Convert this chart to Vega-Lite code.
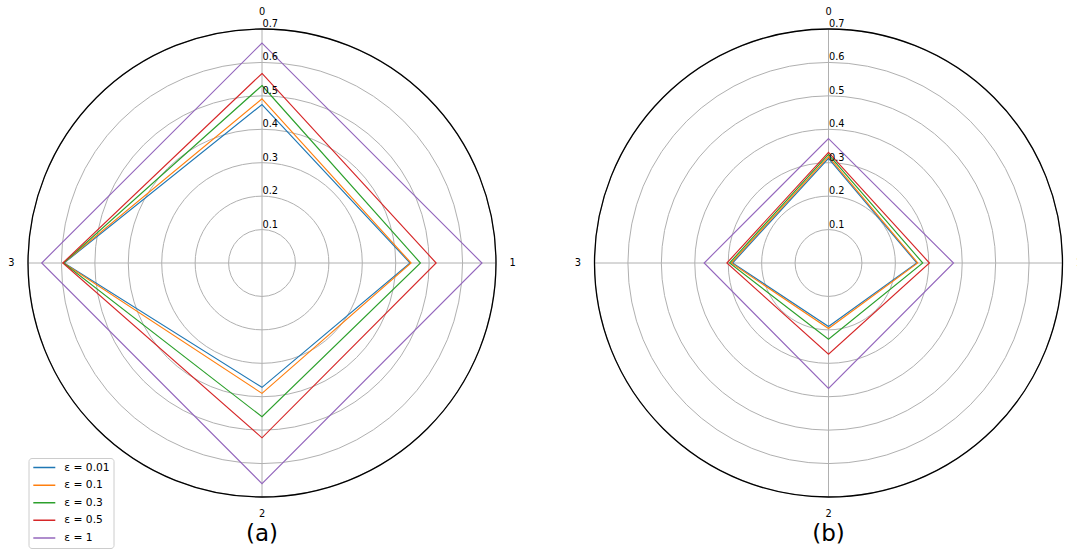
{
  "$schema": "https://vega.github.io/schema/vega-lite/v6.json",
  "padding": {"left": 8, "top": 7, "right": 0, "bottom": 0},
  "bounds": "flush",
  "spacing": 98.5,
  "config": {
    "font": "DejaVu Sans",
    "view": {"stroke": null},
    "legend": {
      "labelFont": "DejaVu Sans",
      "labelFontSize": 10.7,
      "labelColor": "#000000",
      "symbolType": "stroke",
      "symbolStrokeWidth": 1.5,
      "symbolSize": 484,
      "labelOffset": 8,
      "padding": 3.8,
      "rowPadding": 4.6,
      "clipHeight": 11.5,
      "strokeColor": "#cccccc",
      "fillColor": "rgba(255,255,255,0.8)",
      "cornerRadius": 3
    }
  },
  "datasets": {
    "grid": [{"r": 0.1}, {"r": 0.2}, {"r": 0.3}, {"r": 0.4}, {"r": 0.5}, {"r": 0.6}, {"r": 0.7}],
    "outer": [{"r": 0.7}],
    "angles": [{"angle": 0, "label": "0"}, {"angle": 1, "label": "1"}, {"angle": 2, "label": "2"}, {"angle": 3, "label": "3"}],
    "a": [
      {"eps": "ε = 0.01", "axis": 0, "v": 0.474}, {"eps": "ε = 0.01", "axis": 1, "v": 0.443}, {"eps": "ε = 0.01", "axis": 2, "v": 0.372}, {"eps": "ε = 0.01", "axis": 3, "v": 0.592},
      {"eps": "ε = 0.1", "axis": 0, "v": 0.491}, {"eps": "ε = 0.1", "axis": 1, "v": 0.446}, {"eps": "ε = 0.1", "axis": 2, "v": 0.390}, {"eps": "ε = 0.1", "axis": 3, "v": 0.594},
      {"eps": "ε = 0.3", "axis": 0, "v": 0.531}, {"eps": "ε = 0.3", "axis": 1, "v": 0.474}, {"eps": "ε = 0.3", "axis": 2, "v": 0.460}, {"eps": "ε = 0.3", "axis": 3, "v": 0.594},
      {"eps": "ε = 0.5", "axis": 0, "v": 0.567}, {"eps": "ε = 0.5", "axis": 1, "v": 0.521}, {"eps": "ε = 0.5", "axis": 2, "v": 0.523}, {"eps": "ε = 0.5", "axis": 3, "v": 0.596},
      {"eps": "ε = 1", "axis": 0, "v": 0.658}, {"eps": "ε = 1", "axis": 1, "v": 0.658}, {"eps": "ε = 1", "axis": 2, "v": 0.660}, {"eps": "ε = 1", "axis": 3, "v": 0.659}
    ],
    "b": [
      {"eps": "ε = 0.01", "axis": 0, "v": 0.313}, {"eps": "ε = 0.01", "axis": 1, "v": 0.264}, {"eps": "ε = 0.01", "axis": 2, "v": 0.190}, {"eps": "ε = 0.01", "axis": 3, "v": 0.287},
      {"eps": "ε = 0.1", "axis": 0, "v": 0.318}, {"eps": "ε = 0.1", "axis": 1, "v": 0.267}, {"eps": "ε = 0.1", "axis": 2, "v": 0.196}, {"eps": "ε = 0.1", "axis": 3, "v": 0.291},
      {"eps": "ε = 0.3", "axis": 0, "v": 0.325}, {"eps": "ε = 0.3", "axis": 1, "v": 0.282}, {"eps": "ε = 0.3", "axis": 2, "v": 0.228}, {"eps": "ε = 0.3", "axis": 3, "v": 0.296},
      {"eps": "ε = 0.5", "axis": 0, "v": 0.331}, {"eps": "ε = 0.5", "axis": 1, "v": 0.302}, {"eps": "ε = 0.5", "axis": 2, "v": 0.273}, {"eps": "ε = 0.5", "axis": 3, "v": 0.304},
      {"eps": "ε = 1", "axis": 0, "v": 0.372}, {"eps": "ε = 1", "axis": 1, "v": 0.374}, {"eps": "ε = 1", "axis": 2, "v": 0.375}, {"eps": "ε = 1", "axis": 3, "v": 0.372}
    ]
  },
  "hconcat": [
    {
      "width": 468,
      "height": 468,
      "title": {"text": "(a)", "orient": "bottom", "fontSize": 23, "fontWeight": "normal", "color": "#000000", "offset": 4},
      "layer": [
        {
          "data": {"name": "grid"},
          "mark": {"type": "point", "shape": "circle", "filled": false, "stroke": "#b0b0b0", "strokeWidth": 1, "opacity": 1},
          "encoding": {
            "x": {"datum": 0, "type": "quantitative", "scale": {"domain": [-0.7, 0.7], "nice": false, "zero": false}, "axis": null},
            "y": {"datum": 0, "type": "quantitative", "scale": {"domain": [-0.7, 0.7], "nice": false, "zero": false}, "axis": null},
            "size": {"field": "r", "type": "quantitative", "scale": {"type": "pow", "exponent": 2, "domain": [0, 0.7], "range": [0, 219024], "zero": true}, "legend": null}
          }
        },
        {
          "data": {"name": "outer"},
          "mark": {"type": "rule", "stroke": "#b0b0b0", "strokeWidth": 1},
          "encoding": {"x": {"datum": 0, "type": "quantitative"}}
        },
        {
          "data": {"name": "outer"},
          "mark": {"type": "rule", "stroke": "#b0b0b0", "strokeWidth": 1},
          "encoding": {"y": {"datum": 0, "type": "quantitative"}}
        },
        {
          "data": {"name": "outer"},
          "mark": {"type": "point", "shape": "circle", "filled": false, "stroke": "#000000", "strokeWidth": 1.3, "opacity": 1},
          "encoding": {
            "x": {"datum": 0, "type": "quantitative"},
            "y": {"datum": 0, "type": "quantitative"},
            "size": {"field": "r", "type": "quantitative", "legend": null}
          }
        },
        {
          "data": {"name": "a"},
          "transform": [
            {"calculate": "datum.v * sin(datum.axis * PI / 2)", "as": "px"},
            {"calculate": "datum.v * cos(datum.axis * PI / 2)", "as": "py"}
          ],
          "mark": {"type": "line", "strokeWidth": 1.15, "interpolate": "linear-closed", "strokeJoin": "miter"},
          "encoding": {
            "x": {"field": "px", "type": "quantitative"},
            "y": {"field": "py", "type": "quantitative"},
            "order": {"field": "axis", "type": "quantitative"},
            "color": {
              "field": "eps", "type": "nominal",
              "scale": {"domain": ["ε = 0.01", "ε = 0.1", "ε = 0.3", "ε = 0.5", "ε = 1"], "range": ["#1f77b4", "#ff7f0e", "#2ca02c", "#d62728", "#9467bd"]},
              "legend": {"title": null, "orient": "none", "legendX": 0.5, "legendY": 429}
            }
          }
        },
        {
          "data": {"name": "grid"},
          "mark": {"type": "text", "align": "left", "baseline": "bottom", "fontSize": 9.8, "color": "#000000", "dx": 0.5},
          "encoding": {
            "x": {"datum": 0, "type": "quantitative"},
            "y": {"field": "r", "type": "quantitative"},
            "text": {"field": "r", "type": "quantitative", "format": ".1f"}
          }
        },
        {
          "data": {"name": "angles"},
          "transform": [
            {"calculate": "0.75 * sin(datum.angle * PI / 2)", "as": "ax"},
            {"calculate": "0.75 * cos(datum.angle * PI / 2)", "as": "ay"}
          ],
          "mark": {"type": "text", "align": "center", "baseline": "middle", "fontSize": 9.8, "color": "#000000"},
          "encoding": {
            "x": {"field": "ax", "type": "quantitative"},
            "y": {"field": "ay", "type": "quantitative"},
            "text": {"field": "label", "type": "nominal"}
          }
        }
      ]
    },
    {
      "width": 468,
      "height": 468,
      "title": {"text": "(b)", "orient": "bottom", "fontSize": 23, "fontWeight": "normal", "color": "#000000", "offset": 4},
      "layer": [
        {
          "data": {"name": "grid"},
          "mark": {"type": "point", "shape": "circle", "filled": false, "stroke": "#b0b0b0", "strokeWidth": 1, "opacity": 1},
          "encoding": {
            "x": {"datum": 0, "type": "quantitative", "scale": {"domain": [-0.7, 0.7], "nice": false, "zero": false}, "axis": null},
            "y": {"datum": 0, "type": "quantitative", "scale": {"domain": [-0.7, 0.7], "nice": false, "zero": false}, "axis": null},
            "size": {"field": "r", "type": "quantitative", "scale": {"type": "pow", "exponent": 2, "domain": [0, 0.7], "range": [0, 219024], "zero": true}, "legend": null}
          }
        },
        {
          "data": {"name": "outer"},
          "mark": {"type": "rule", "stroke": "#b0b0b0", "strokeWidth": 1},
          "encoding": {"x": {"datum": 0, "type": "quantitative"}}
        },
        {
          "data": {"name": "outer"},
          "mark": {"type": "rule", "stroke": "#b0b0b0", "strokeWidth": 1},
          "encoding": {"y": {"datum": 0, "type": "quantitative"}}
        },
        {
          "data": {"name": "outer"},
          "mark": {"type": "point", "shape": "circle", "filled": false, "stroke": "#000000", "strokeWidth": 1.3, "opacity": 1},
          "encoding": {
            "x": {"datum": 0, "type": "quantitative"},
            "y": {"datum": 0, "type": "quantitative"},
            "size": {"field": "r", "type": "quantitative", "legend": null}
          }
        },
        {
          "data": {"name": "b"},
          "transform": [
            {"calculate": "datum.v * sin(datum.axis * PI / 2)", "as": "px"},
            {"calculate": "datum.v * cos(datum.axis * PI / 2)", "as": "py"}
          ],
          "mark": {"type": "line", "strokeWidth": 1.15, "interpolate": "linear-closed", "strokeJoin": "miter"},
          "encoding": {
            "x": {"field": "px", "type": "quantitative"},
            "y": {"field": "py", "type": "quantitative"},
            "order": {"field": "axis", "type": "quantitative"},
            "color": {
              "field": "eps", "type": "nominal",
              "scale": {"domain": ["ε = 0.01", "ε = 0.1", "ε = 0.3", "ε = 0.5", "ε = 1"], "range": ["#1f77b4", "#ff7f0e", "#2ca02c", "#d62728", "#9467bd"]},
              "legend": {"title": null, "orient": "none", "legendX": 0.5, "legendY": 429}
            }
          }
        },
        {
          "data": {"name": "grid"},
          "mark": {"type": "text", "align": "left", "baseline": "bottom", "fontSize": 9.8, "color": "#000000", "dx": 0.5},
          "encoding": {
            "x": {"datum": 0, "type": "quantitative"},
            "y": {"field": "r", "type": "quantitative"},
            "text": {"field": "r", "type": "quantitative", "format": ".1f"}
          }
        },
        {
          "data": {"name": "angles"},
          "transform": [
            {"calculate": "0.75 * sin(datum.angle * PI / 2)", "as": "ax"},
            {"calculate": "0.75 * cos(datum.angle * PI / 2)", "as": "ay"}
          ],
          "mark": {"type": "text", "align": "center", "baseline": "middle", "fontSize": 9.8, "color": "#000000"},
          "encoding": {
            "x": {"field": "ax", "type": "quantitative"},
            "y": {"field": "ay", "type": "quantitative"},
            "text": {"field": "label", "type": "nominal"}
          }
        }
      ]
    }
  ]
}
